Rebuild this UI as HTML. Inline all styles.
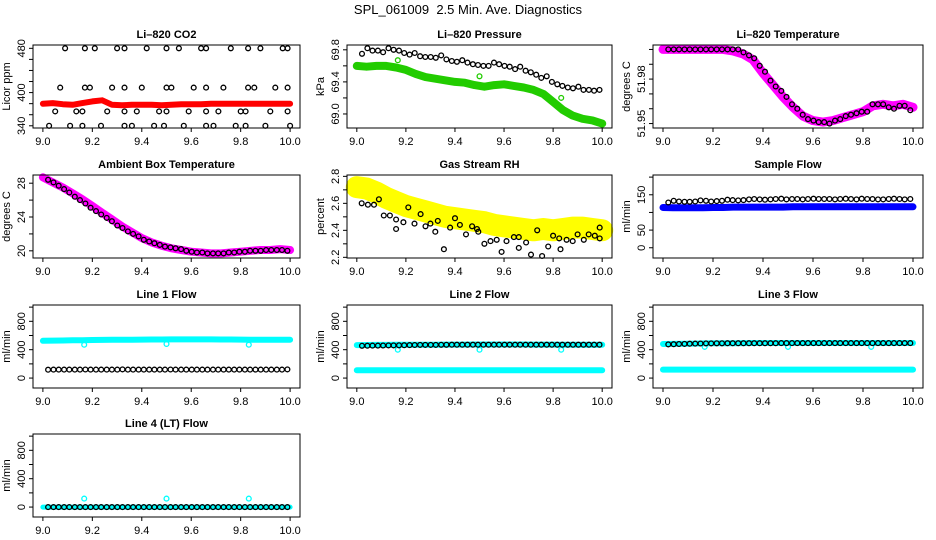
<!DOCTYPE html>
<html><head><meta charset="utf-8">
<style>
html,body{margin:0;padding:0;background:#fff;}
svg{display:block;font-family:"Liberation Sans",Arial,sans-serif;}
</style></head>
<body>
<svg id="chart" width="936" height="540" viewBox="0 0 936 540">
<text x="468" y="14" text-anchor="middle" font-size="13" fill="#000">SPL_061009&#160; 2.5 Min. Ave. Diagnostics</text>
</svg>
<script>
// ---- data ----
const tX=[9.00,9.04,9.08,9.12,9.16,9.20,9.24,9.28,9.32,9.36,9.40,9.44,9.48,9.52,9.56,9.60,9.64,9.68,9.72,9.76,9.80,9.84,9.88,9.92,9.96,10.00];
const bX=[9.021,9.043,9.064,9.086,9.107,9.129,9.150,9.172,9.193,9.215,9.236,9.258,9.279,9.301,9.322,9.344,9.365,9.387,9.408,9.430,9.451,9.473,9.494,9.516,9.537,9.559,9.580,9.602,9.623,9.645,9.666,9.688,9.709,9.731,9.752,9.774,9.795,9.817,9.838,9.860,9.881,9.903,9.924,9.946,9.967,9.989];
const xTicks=[9.0,9.2,9.4,9.6,9.8,10.0];
const xTickLabels=["9.0","9.2","9.4","9.6","9.8","10.0"];

const co2Red=[380,381,379,378,381,384,386,378,377,378,378,378,377,378,379,379,379,380,380,380,380,380,380,380,380,380];
const co2BlackX=[9.09,9.17,9.21,9.30,9.33,9.42,9.50,9.55,9.64,9.66,9.76,9.83,9.88,9.97,9.99, 9.07,9.17,9.19,9.28,9.33,9.40,9.50,9.52,9.61,9.66,9.73,9.83,9.855,9.94,9.99, 9.05,9.135,9.16,9.26,9.33,9.38,9.47,9.50,9.59,9.66,9.71,9.80,9.82,9.92,9.99, 9.025,9.11,9.16,9.235,9.33,9.36,9.45,9.49,9.57,9.66,9.69,9.78,9.82,9.90,10.0];
const co2BlackY=[480,480,480,480,480,480,480,480,480,480,480,480,480,480,480, 409,409,409,409,409,409,409,409,409,409,409,409,409,409,409, 366,366,366,366,366,366,366,366,366,366,366,366,366,366,366, 340,340,340,340,340,340,340,340,340,340,340,340,340,340,340];

const presGreen=[69.60,69.59,69.60,69.60,69.58,69.55,69.50,69.46,69.44,69.42,69.40,69.39,69.36,69.34,69.36,69.37,69.35,69.33,69.30,69.25,69.15,69.05,68.98,68.94,68.92,68.88];
const presBlack=[69.75,69.82,69.79,69.79,69.77,69.82,69.80,69.79,69.76,69.74,69.76,69.72,69.71,69.71,69.70,69.73,69.68,69.66,69.65,69.67,69.64,69.62,69.61,69.60,69.60,69.64,69.62,69.60,69.59,69.56,69.59,69.54,69.52,69.49,69.45,69.47,69.40,69.37,69.35,69.33,69.32,69.34,69.30,69.30,69.29,69.30];
const presGreenOutX=[9.167,9.5,9.833];
const presGreenOutY=[69.67,69.47,69.20];

const tempMag=[52.000,52.000,52.000,52.000,52.000,52.000,52.000,51.999,51.997,51.993,51.984,51.976,51.968,51.961,51.955,51.952,51.951,51.952,51.954,51.956,51.958,51.962,51.963,51.962,51.963,51.961];
const tempBlack=[52.000,52.000,52.000,52.000,52.000,52.000,52.000,52.000,52.000,52.000,52.000,52.000,52.000,52.000,51.998,51.996,51.994,51.989,51.985,51.979,51.975,51.972,51.968,51.963,51.960,51.956,51.953,51.952,51.951,51.951,51.950,51.952,51.953,51.955,51.956,51.957,51.958,51.958,51.963,51.963,51.963,51.961,51.960,51.962,51.962,51.959];

const ambMag=[28.7,28.1,27.5,26.8,26.1,25.3,24.5,23.7,22.9,22.2,21.5,21.0,20.6,20.3,20.1,19.9,19.8,19.7,19.7,19.8,19.9,20.0,20.1,20.1,20.2,20.1];
const ambBlack=[28.4,28.1,27.7,27.3,26.9,26.4,26.0,25.6,25.1,24.7,24.3,23.9,23.5,23.0,22.7,22.3,22.0,21.7,21.3,21.1,20.9,20.7,20.5,20.4,20.3,20.2,20.0,19.9,19.8,19.8,19.7,19.7,19.7,19.7,19.8,19.8,19.9,19.9,20.0,20.0,20.0,20.1,20.1,20.1,20.1,20.0];

const rhYellow=[2.72,2.71,2.68,2.64,2.61,2.58,2.56,2.54,2.52,2.50,2.49,2.48,2.47,2.46,2.44,2.43,2.42,2.41,2.40,2.41,2.40,2.41,2.42,2.42,2.41,2.40];
const rhBlackX=[9.02,9.045,9.07,9.09,9.11,9.135,9.16,9.16,9.19,9.21,9.235,9.26,9.28,9.30,9.32,9.33,9.355,9.38,9.40,9.42,9.445,9.47,9.49,9.495,9.52,9.545,9.57,9.59,9.61,9.64,9.66,9.66,9.69,9.71,9.735,9.755,9.78,9.80,9.825,9.83,9.855,9.88,9.90,9.925,9.945,9.97,9.99,9.99];
const rhBlackY=[2.60,2.59,2.59,2.63,2.51,2.51,2.48,2.41,2.46,2.57,2.45,2.52,2.43,2.45,2.39,2.47,2.26,2.42,2.49,2.44,2.37,2.43,2.41,2.39,2.30,2.32,2.33,2.24,2.32,2.35,2.35,2.27,2.31,2.22,2.40,2.21,2.28,2.36,2.34,2.26,2.33,2.32,2.37,2.33,2.37,2.36,2.42,2.34];

const sampBlue=[114,113,113,113,113,114,114,115,115,115,115,115,115,116,116,116,116,116,116,116,116,116,116,116,116,116];
const sampBlack=[128,133,131,130,130,131,134,133,131,132,133,136,135,134,135,137,138,137,136,137,138,139,137,138,138,137,138,139,138,138,138,137,138,139,138,137,139,138,138,137,137,138,139,138,137,138];

const l1Cyan=[525,528,530,532,534,536,538,539,540,541,542,543,544,545,545,545,545,545,544,543,542,541,541,540,540,540];
const l1Black=[118,120,120,120,120,120,120,121,120,120,120,120,120,120,122,120,120,120,120,120,120,120,120,121,120,120,120,120,120,120,120,120,120,120,120,120,120,120,120,120,120,120,120,120,120,122];
const l2Cyan=[465,466,467,468,469,470,470,471,471,472,472,472,473,473,473,473,473,473,472,472,472,471,471,471,470,470];
const l2Low=[110,110,111,111,111,111,111,111,111,111,111,111,111,111,111,111,111,111,111,111,111,111,111,111,111,111];
const l2Black=[455,456,457,458,459,460,461,462,464,465,466,467,467,468,468,469,469,470,470,470,470,471,471,471,471,471,471,471,471,471,470,470,470,470,470,470,470,470,470,470,470,470,470,470,470,470];
const l3Cyan=[480,482,484,486,488,490,491,492,493,494,495,495,495,495,495,495,495,495,495,495,495,495,495,495,495,495];
const l3Low=[120,120,120,120,120,120,120,120,120,120,120,120,120,120,120,120,120,120,120,120,120,120,120,120,120,120];
const l3Black=[475,478,480,482,484,486,487,488,489,490,490,491,491,492,492,492,492,492,492,492,492,493,493,493,493,493,493,493,493,493,493,493,493,493,493,493,493,493,493,493,493,493,493,493,493,493];
const l4Cyan=[0,0,0,0,0,0,0,0,0,0,0,0,0,0,0,0,0,0,0,0,0,0,0,0,0,0];
const l4Black=[0,0,0,0,0,0,0,0,0,0,0,0,0,0,0,0,0,0,0,0,0,0,0,0,0,0,0,0,0,0,0,0,0,0,0,0,0,0,0,0,0,0,0,0,0,0];
const dipX=[9.167,9.5,9.833];
const l1Dip=[470,480,470];
const l2Dip=[400,400,400];
const l3Dip=[440,440,440];
const l4Dip=[120,120,120];

// ---- layout ----
const colLeft=[33,347,653], colW=[267,265,270];
const rowTop=[45,175,305,434], plotH=83;
const svg=document.getElementById('chart');
const NS='http://www.w3.org/2000/svg';
function mk(tag,attrs,parent){const e=document.createElementNS(NS,tag);for(const k in attrs)e.setAttribute(k,attrs[k]);(parent||svg).appendChild(e);return e;}

function panel(cfg){
  const L=colLeft[cfg.col], W=colW[cfg.col], T=rowTop[cfg.row], B=T+plotH;
  const g=mk('g',{});
  
  
  const xs=v=>L+(v-8.96)/1.08*W;
  const ys=v=>B-(v-cfg.dom[0])/(cfg.dom[1]-cfg.dom[0])*plotH;
  const t=mk('text',{x:L+W/2,y:T-7,'text-anchor':'middle','font-size':11,'font-weight':'bold'},g);
  t.textContent=cfg.title;
  
  
  const data=mk('g',{},g);
  
  
  (cfg.bands||[]).forEach(bd=>{
    const pts=bd.x.map((x,i)=>xs(x).toFixed(1)+','+ys(bd.y[i]).toFixed(1)).join(' ');
    const pl=mk('polyline',{points:pts,fill:'none',stroke:bd.color,'stroke-width':bd.w,'stroke-linejoin':'round','stroke-linecap':'round'},data);
    
    
  });
  (cfg.pts||[]).forEach(ps=>{
    ps.x.forEach((x,i)=>{
      const c=mk('circle',{cx:xs(x).toFixed(1),cy:ys(ps.y[i]).toFixed(1),r:ps.r||2.4,fill:'none',stroke:ps.color,'stroke-width':ps.sw||1.3},data);
      
      
    });
  });
  const box=mk('rect',{x:L,y:T,width:W,height:plotH,fill:'none',stroke:'#000','stroke-width':1},g);
  
  
  const xa=mk('g',{},g);
  
  
  mk('line',{x1:xs(9),x2:xs(10),y1:B,y2:B,stroke:'#000'},xa);
  xTicks.forEach((v,i)=>{
    mk('line',{x1:xs(v),x2:xs(v),y1:B,y2:B+4,stroke:'#000'},xa);
    const tl=mk('text',{x:xs(v),y:B+17,'text-anchor':'middle','font-size':11},xa);
    tl.textContent=xTickLabels[i];
    
    
  });
  const ya=mk('g',{},g);
  
  
  mk('line',{x1:L,x2:L,y1:ys(cfg.ticks[0]),y2:ys(cfg.ticks[cfg.ticks.length-1]),stroke:'#000'},ya);
  cfg.ticks.forEach(v=>mk('line',{x1:L-4,x2:L,y1:ys(v),y2:ys(v),stroke:'#000'},ya));
  cfg.labels.forEach((v,i)=>{
    const tx=L-8, ty=ys(v);
    const tl=mk('text',{x:tx,y:ty,'text-anchor':'middle','font-size':11,transform:`rotate(-90 ${tx} ${ty})`},ya);
    tl.textContent=cfg.labelText[i];
    
    
  });
  const ax=L-23, ay=T+plotH/2;
  const yt=mk('text',{x:ax,y:ay,'text-anchor':'middle','font-size':11,transform:`rotate(-90 ${ax} ${ay})`},g);
  yt.textContent=cfg.ylab;
  
  
}

const flowTicks=[0,200,400,600,800,1000], flowLab=[0,400,800], flowLabT=["0","400","800"], flowDom=[-140,1030];
panel({name:'co2',title:'Li\u2013820 CO2',col:0,row:0,dom:[336,486],ticks:[340,360,380,400,420,440,460,480],labels:[340,400,480],labelText:["340","400","480"],ylab:'Licor ppm',
  bands:[{name:'co2-licor-band',x:tX,y:co2Red,color:'#ff0000',w:6}],
  pts:[{name:'co2-point',x:co2BlackX,y:co2BlackY,color:'#000'}]});
panel({name:'pressure',title:'Li\u2013820 Pressure',col:1,row:0,dom:[68.825,69.86],ticks:[69.0,69.2,69.4,69.6,69.8],labels:[69.0,69.4,69.8],labelText:["69.0","69.4","69.8"],ylab:'kPa',
  bands:[{name:'pressure-green-band',x:tX,y:presGreen,color:'#22cc00',w:8}],
  pts:[{name:'pressure-green-point',x:presGreenOutX,y:presGreenOutY,color:'#22cc00'},{name:'pressure-point',x:bX,y:presBlack,color:'#000'}]});
panel({name:'li-temp',title:'Li\u2013820 Temperature',col:2,row:0,dom:[51.947,52.003],ticks:[51.95,51.96,51.97,51.98,51.99,52.00],labels:[51.95,51.98],labelText:["51.95","51.98"],ylab:'degrees C',
  bands:[{name:'li-temp-band',x:tX,y:tempMag,color:'#ff00ff',w:9}],
  pts:[{name:'li-temp-point',x:bX,y:tempBlack,color:'#000'}]});
panel({name:'ambient',title:'Ambient Box Temperature',col:0,row:1,dom:[19.15,28.97],ticks:[20,22,24,26,28],labels:[20,24,28],labelText:["20","24","28"],ylab:'degrees C',
  bands:[{name:'ambient-band',x:tX,y:ambMag,color:'#ff00ff',w:8}],
  pts:[{name:'ambient-point',x:bX,y:ambBlack,color:'#000'}]});
panel({name:'rh',title:'Gas Stream RH',col:1,row:1,dom:[2.195,2.81],ticks:[2.2,2.3,2.4,2.5,2.6,2.7,2.8],labels:[2.2,2.4,2.6,2.8],labelText:["2.2","2.4","2.6","2.8"],ylab:'percent',
  bands:[{name:'rh-yellow-band',x:tX,y:rhYellow,color:'#ffff00',w:22}],
  pts:[{name:'rh-point',x:rhBlackX,y:rhBlackY,color:'#000'}]});
panel({name:'sample-flow',title:'Sample Flow',col:2,row:1,dom:[-29,206],ticks:[0,50,100,150,200],labels:[0,50,150],labelText:["0","50","150"],ylab:'ml/min',
  bands:[{name:'sample-blue-band',x:tX,y:sampBlue,color:'#0000ff',w:7}],
  pts:[{name:'sample-point',x:bX,y:sampBlack,color:'#000'}]});
panel({name:'line1',title:'Line 1 Flow',col:0,row:2,dom:flowDom,ticks:flowTicks,labels:flowLab,labelText:flowLabT,ylab:'ml/min',
  bands:[{name:'line1-cyan-band',x:tX,y:l1Cyan,color:'#00ffff',w:6}],
  pts:[{name:'line1-dip',x:dipX,y:l1Dip,color:'#00ffff'},{name:'line1-point',x:bX,y:l1Black,color:'#000'}]});
panel({name:'line2',title:'Line 2 Flow',col:1,row:2,dom:flowDom,ticks:flowTicks,labels:flowLab,labelText:flowLabT,ylab:'ml/min',
  bands:[{name:'line2-cyan-band',x:tX,y:l2Cyan,color:'#00ffff',w:6},{name:'line2-cyan-low-band',x:tX,y:l2Low,color:'#00ffff',w:6}],
  pts:[{name:'line2-dip',x:dipX,y:l2Dip,color:'#00ffff'},{name:'line2-point',x:bX,y:l2Black,color:'#000'}]});
panel({name:'line3',title:'Line 3 Flow',col:2,row:2,dom:flowDom,ticks:flowTicks,labels:flowLab,labelText:flowLabT,ylab:'ml/min',
  bands:[{name:'line3-cyan-band',x:tX,y:l3Cyan,color:'#00ffff',w:6},{name:'line3-cyan-low-band',x:tX,y:l3Low,color:'#00ffff',w:6}],
  pts:[{name:'line3-dip',x:dipX,y:l3Dip,color:'#00ffff'},{name:'line3-point',x:bX,y:l3Black,color:'#000'}]});
panel({name:'line4',title:'Line 4 (LT) Flow',col:0,row:3,dom:flowDom,ticks:flowTicks,labels:flowLab,labelText:flowLabT,ylab:'ml/min',
  bands:[{name:'line4-cyan-band',x:tX,y:l4Cyan,color:'#00ffff',w:5}],
  pts:[{name:'line4-dip',x:dipX,y:l4Dip,color:'#00ffff'},{name:'line4-point',x:bX,y:l4Black,color:'#000'}]});
</script>
</body></html>
